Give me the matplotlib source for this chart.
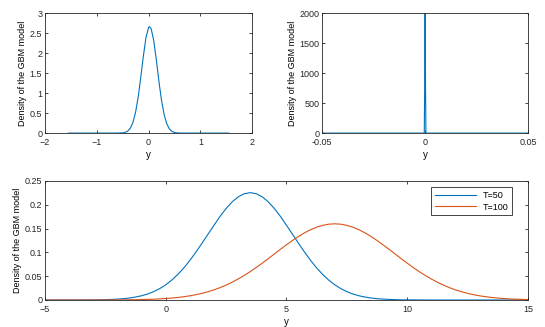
import matplotlib
matplotlib.use('Agg')
import matplotlib.pyplot as plt
import numpy as np

plt.rcParams['font.family'] = ['Liberation Sans', 'DejaVu Sans']
plt.rcParams['font.size'] = 6.5

# top left: density near y=0
y_left = [-1.55, -1.0, -0.7, -0.6, -0.5, -0.45, -0.4, -0.35, -0.3, -0.25, -0.2, -0.15, -0.1, -0.05,
          0.0, 0.02, 0.05, 0.1, 0.15, 0.2, 0.25, 0.3, 0.35, 0.4, 0.45, 0.5, 0.55, 0.6, 0.7, 1.0, 1.55]
dens_left = [0.0, 0.0, 0.0001, 0.0005, 0.0065, 0.0196, 0.053, 0.127, 0.273, 0.527, 0.907, 1.40, 1.93, 2.39,
             2.64, 2.66, 2.61, 2.31, 1.83, 1.29, 0.821, 0.466, 0.237, 0.107, 0.0437, 0.0159, 0.0052, 0.0015, 0.0001, 0.0, 0.0]

# top right: very narrow spike
y_right = [-0.05, -0.0004, -0.0002, 0.0, 0.0002, 0.0004, 0.05]
dens_right = [0, 0, 800, 2100, 800, 0, 0]

# bottom: T=50 and T=100, sampled every 0.25 from -5 to 15
y_bottom = np.linspace(-5, 15, 81)
dens_t50 = [0, 0, 0, 0, 0, 0.00005, 0.0001, 0.0002, 0.0003, 0.0004, 0.0008, 0.0012, 0.0018, 0.0028,
            0.0042, 0.0062, 0.0089, 0.0126, 0.0175, 0.0239, 0.0319, 0.0418, 0.0536, 0.0674, 0.0832,
            0.1005, 0.119, 0.1382, 0.157, 0.1757, 0.192, 0.2060, 0.2166, 0.2232, 0.2254, 0.2232, 0.2166,
            0.2060, 0.192, 0.1757, 0.157, 0.1382, 0.119, 0.1005, 0.0832, 0.0674, 0.0536, 0.0418, 0.0319,
            0.0239, 0.0175, 0.0126, 0.0089, 0.0062, 0.0042, 0.0028, 0.0018, 0.0012, 0.0007, 0.0004, 0.0003,
            0.0002, 0.0001, 0.00005, 0, 0, 0, 0, 0, 0, 0, 0, 0, 0, 0, 0, 0, 0, 0, 0, 0]
dens_t100 = [0, 0, 0, 0, 0.00001, 0.00002, 0.00003, 0.00004, 0.00005, 0.00008, 0.0001, 0.00015, 0.0002,
             0.0003, 0.0005, 0.0006, 0.0009, 0.0013, 0.0017, 0.0023, 0.0031, 0.0041, 0.0053, 0.0069, 0.0088,
             0.0111, 0.0140, 0.0173, 0.0213, 0.0259, 0.0313, 0.0373, 0.0441, 0.0515, 0.0596, 0.0683, 0.0774,
             0.0869, 0.0967, 0.1064, 0.1159, 0.1250, 0.1335, 0.1411, 0.1476, 0.1529, 0.1568, 0.1592, 0.160,
             0.1592, 0.1568, 0.1529, 0.1476, 0.1411, 0.1335, 0.1250, 0.1159, 0.1064, 0.0967, 0.0869, 0.0774,
             0.0683, 0.0596, 0.0515, 0.0441, 0.0373, 0.0313, 0.0259, 0.0213, 0.0173, 0.0140, 0.0111, 0.0088,
             0.0069, 0.0053, 0.0041, 0.0031, 0.0023, 0.0017, 0.0013, 0.0009]

blue = '#0072BD'
orange = '#D95319'
ylab = 'Density of the GBM model'


def matlab_style(ax):
    ax.tick_params(direction='in', top=True, right=True, length=2.5, width=0.6,
                   colors='#262626', labelsize=6.5)
    ax.tick_params(axis='x', pad=3.5)
    ax.tick_params(axis='y', pad=2)
    for s in ax.spines.values():
        s.set_linewidth(0.6)
        s.set_color('#262626')
    ax.set_xlabel('y', fontsize=7, labelpad=2)
    ax.set_ylabel(ylab, fontsize=6.5, labelpad=2)


fig = plt.figure(figsize=(5.45, 3.27), dpi=100)

ax1 = fig.add_axes([0.0826, 0.593, 0.380, 0.367])
ax1.plot(y_left, dens_left, color=blue, lw=0.8)
ax1.set_xlim(-2, 2)
ax1.set_ylim(0, 3)
ax1.set_xticks([-2, -1, 0, 1, 2])
ax1.set_yticks([0, 0.5, 1, 1.5, 2, 2.5, 3])
ax1.set_yticklabels(['0', '0.5', '1', '1.5', '2', '2.5', '3'])
matlab_style(ax1)

ax2 = fig.add_axes([0.591, 0.593, 0.378, 0.367])
ax2.plot(y_right, dens_right, color=blue, lw=0.8)
ax2.set_xlim(-0.05, 0.05)
ax2.set_ylim(0, 2000)
ax2.set_xticks([-0.05, 0, 0.05])
ax2.set_xticklabels(['-0.05', '0', '0.05'])
ax2.set_yticks([0, 500, 1000, 1500, 2000])
matlab_style(ax2)

ax3 = fig.add_axes([0.0826, 0.0826, 0.886, 0.364])
ax3.plot(y_bottom, dens_t50, color=blue, lw=0.8, label='T=50')
ax3.plot(y_bottom, dens_t100, color=orange, lw=0.8, label='T=100')
ax3.set_xlim(-5, 15)
ax3.set_ylim(0, 0.25)
ax3.set_xticks([-5, 0, 5, 10, 15])
ax3.set_yticks([0, 0.05, 0.1, 0.15, 0.2, 0.25])
ax3.set_yticklabels(['0', '0.05', '0.1', '0.15', '0.2', '0.25'])
matlab_style(ax3)
leg = ax3.legend(loc='upper right', fontsize=6.5, fancybox=False, edgecolor='#262626',
                 framealpha=1, handlelength=4.5, borderpad=0.4, labelspacing=0.3,
                 bbox_to_anchor=(0.977, 0.985))
leg.get_frame().set_linewidth(0.6)

fig.savefig('out.png', dpi=100)
